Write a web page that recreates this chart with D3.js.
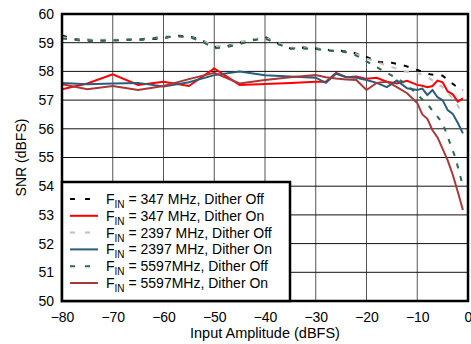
<!DOCTYPE html>
<html>
<head>
<meta charset="utf-8">
<script src="https://cdn.jsdelivr.net/npm/d3@7"></script>
<style>
  body { margin: 0; background: #fff; }
  text { font-family: "Liberation Sans", Arial, sans-serif; fill: #000; }
</style>
</head>
<body>
<div id="chart"></div>
<script>
// amplitude grids (dBFS)
var ampOff = [-80,-77.5,-75,-72.5,-70,-67.5,-65,-62.5,-60,-57.5,-55,-52.5,-50,-47.5,-45,-42.5,-40,-37.5,-35,-32.5,-30,-27.5,-25,-22.5,-20,-17.5,-15,-12.5,-10,-7.5,-5,-2.5,-1];
var ampOn = [-80,-75,-70,-65,-60,-55,-50,-45,-40,-35,-30,-28,-26,-24,-22,-20,-18,-16,-14,-12,-10,-9,-8,-7,-6,-5,-4,-3,-2,-1];

// SNR values (dBFS)
var snr347Off  = [59.25,59.12,59.1,59.08,59.08,59.1,59.1,59.13,59.15,59.25,59.22,59.1,58.85,58.88,59.0,59.1,59.2,58.98,58.8,58.83,58.8,58.75,58.72,58.65,58.5,58.33,58.3,58.2,58.05,57.9,57.85,57.5,57.35];
var snr347On   = [57.38,57.58,57.9,57.53,57.64,57.49,58.1,57.53,57.56,57.6,57.64,57.64,57.95,57.8,57.82,57.74,57.78,57.64,57.58,57.67,57.53,57.5,57.45,57.49,57.68,57.62,57.3,57.2,56.95,57.06];
var snr2397Off = [59.2,59.1,59.08,59.1,59.1,59.12,59.12,59.15,59.18,59.22,59.2,59.08,58.88,58.85,59.02,59.12,59.18,59.0,58.82,58.82,58.78,58.76,58.7,58.64,58.45,58.3,58.15,58.0,57.95,57.75,57.45,56.95,56.5];
var snr2397On  = [57.6,57.55,57.58,57.6,57.47,57.62,57.87,58.0,57.87,57.82,57.78,57.6,57.92,57.8,57.78,57.7,57.6,57.45,57.68,57.41,57.35,57.4,57.18,57.35,57.1,57.0,56.65,56.52,56.2,55.84];
var snr5597Off = [59.15,59.1,59.05,59.08,59.08,59.1,59.12,59.15,59.2,59.22,59.2,59.05,58.8,58.85,58.95,59.08,59.15,58.95,58.8,58.8,58.78,58.72,58.7,58.6,58.35,58.1,57.85,57.6,57.2,56.75,56.2,55.0,54.0];
var snr5597On  = [57.55,57.38,57.49,57.35,57.49,57.73,57.95,57.58,57.7,57.8,57.87,57.8,57.75,57.72,57.7,57.35,57.6,57.64,57.45,57.24,56.9,56.5,56.35,55.95,55.7,55.3,54.9,54.4,53.8,53.17];

var xTicks = [-80,-70,-60,-50,-40,-30,-20,-10,0];
var yTicks = [50,51,52,53,54,55,56,57,58,59,60];

var seriesNames = ["347 MHz, Dither Off","347 MHz, Dither On","2397 MHz, Dither Off","2397 MHz, Dither On","5597MHz, Dither Off","5597MHz, Dither On"];
var seriesX = [ampOff, ampOn, ampOff, ampOn, ampOff, ampOn];
var seriesY = [snr347Off, snr347On, snr2397Off, snr2397On, snr5597Off, snr5597On];
var colors = ["#000000","#ff0000","#c0c0c0","#2a5d7c","#2e6b48","#a8393a"];
var dashed = [true,false,true,false,true,false];

var width = 471, height = 344;
var margin = {top: 14, right: 3, bottom: 43, left: 62};

var svg = d3.select("#chart").append("svg")
  .attr("width", width)
  .attr("height", height);

var x = d3.scaleLinear().domain([-80, 0]).range([margin.left, width - margin.right]);
var y = d3.scaleLinear().domain([50, 60]).range([height - margin.bottom, margin.top]);

// grid
svg.append("g").selectAll("line").data(xTicks).enter().append("line")
  .attr("x1", d => x(d)).attr("x2", d => x(d))
  .attr("y1", y(50)).attr("y2", y(60))
  .attr("stroke", "#555").attr("stroke-width", 1);
svg.append("g").selectAll("line").data(yTicks).enter().append("line")
  .attr("x1", x(-80)).attr("x2", x(0))
  .attr("y1", d => y(d)).attr("y2", d => y(d))
  .attr("stroke", "#111").attr("stroke-width", 1);

// axes labels
var xAxis = svg.append("g")
  .attr("transform", "translate(0," + (height - margin.bottom) + ")")
  .call(d3.axisBottom(x).tickValues(xTicks).tickSize(0).tickPadding(11));
xAxis.select(".domain").remove();
xAxis.selectAll("text").style("font-size", "14px").style("font-family", "Liberation Sans, Arial, sans-serif");

var yAxis = svg.append("g")
  .attr("transform", "translate(" + margin.left + ",0)")
  .call(d3.axisLeft(y).tickValues(yTicks).tickSize(0).tickPadding(8));
yAxis.select(".domain").remove();
yAxis.selectAll("text").style("font-size", "14px").style("font-family", "Liberation Sans, Arial, sans-serif");

// clip
svg.append("clipPath").attr("id", "clip").append("rect")
  .attr("x", x(-80)).attr("y", y(60)).attr("width", x(0) - x(-80)).attr("height", y(50) - y(60));

var line = d3.line().x(d => x(d[0])).y(d => y(d[1]));

var plot = svg.append("g").attr("clip-path", "url(#clip)");
var order = [1, 3, 5, 0, 2, 4];
order.forEach(function(i){
  var pts = seriesX[i].map((a, j) => [a, seriesY[i][j]]);
  plot.append("path")
    .attr("d", line(pts))
    .attr("fill", "none")
    .attr("stroke", colors[i])
    .attr("stroke-width", 2)
    .attr("stroke-dasharray", dashed[i] ? "5,8" : null);
});

// frame
svg.append("rect")
  .attr("x", x(-80)).attr("y", y(60))
  .attr("width", x(0) - x(-80)).attr("height", y(50) - y(60))
  .attr("fill", "none").attr("stroke", "#000").attr("stroke-width", 2.5);

// legend
var lg = svg.append("g");
lg.append("rect")
  .attr("x", x(-80)).attr("y", 182)
  .attr("width", 228).attr("height", y(50) - 182)
  .attr("fill", "#fff").attr("stroke", "#000").attr("stroke-width", 2.5);

seriesNames.forEach(function(name, i){
  var ly = 199 + i * 16.8;
  lg.append("line")
    .attr("x1", 70).attr("x2", 98).attr("y1", ly).attr("y2", ly)
    .attr("stroke", colors[i]).attr("stroke-width", 2)
    .attr("stroke-dasharray", dashed[i] ? "5,10" : null);
  var t = lg.append("text").attr("x", 106).attr("y", ly + 5).style("font-size", "14px");
  t.append("tspan").text("F");
  t.append("tspan").attr("dy", 4).style("font-size", "10px").text("IN");
  t.append("tspan").attr("dy", -4).text(" = " + name);
});

// titles
svg.append("text")
  .attr("x", (x(-80) + x(0)) / 2).attr("y", 338)
  .attr("text-anchor", "middle").style("font-size", "14.5px")
  .text("Input Amplitude (dBFS)");
svg.append("text")
  .attr("transform", "translate(26," + (y(55)) + ") rotate(-90)")
  .attr("text-anchor", "middle").style("font-size", "14px")
  .text("SNR (dBFS)");
</script>
</body>
</html>
